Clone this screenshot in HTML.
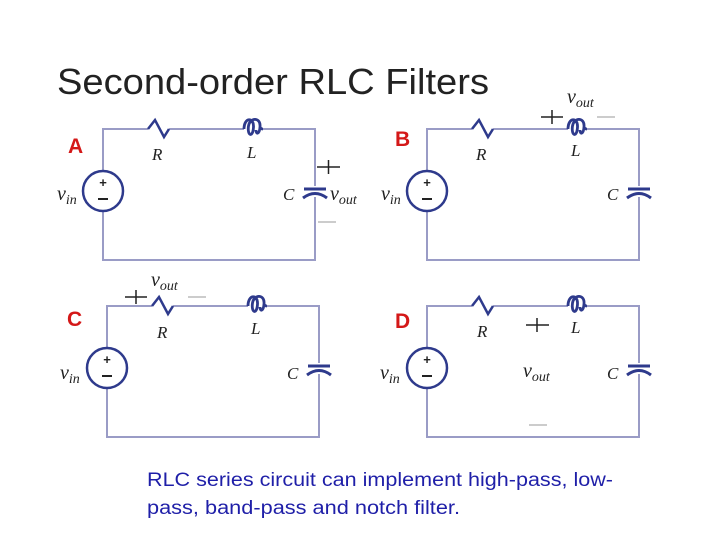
<!DOCTYPE html>
<html><head><meta charset="utf-8"><style>
html,body{margin:0;padding:0;background:#fff;}
svg{display:block}
.t{font-family:"Liberation Serif",serif;font-style:italic;fill:#222;}
.lab{font-family:"Liberation Sans",sans-serif;font-weight:bold;fill:#d41818;font-size:21px;}
</style></head><body>
<svg width="720" height="540" viewBox="0 0 720 540" xmlns="http://www.w3.org/2000/svg">
<defs>
<g id="ckt">
  <path d="M0,42 V0 H45 M66,0 H141 M160,0 H212 V57 M212,68 V131 H0 V82" fill="none" stroke="#9a9cc6" stroke-width="2"/>
  <path d="M45,0 L52,-9 L61,8 L66,0" fill="none" stroke="#2e3a8c" stroke-width="2.5"/>
  <path d="M141,0 C141,-12 151,-12 150.5,-2 C150,9 144,7 145.5,-3 C147,-12 158,-12 157,-2 C156.5,5 153,6 153,1 M157,-2 C158,0 159,0 160,0" fill="none" stroke="#2e3a8c" stroke-width="2.8"/>
  <path d="M201,60 H223 M200,69 Q212,60 224,69" fill="none" stroke="#2e3a8c" stroke-width="3"/>
  <circle cx="0" cy="62" r="20" fill="#fff" stroke="#2e3a8c" stroke-width="2.5"/>
  <text x="0" y="58" text-anchor="middle" font-family="Liberation Sans,sans-serif" font-size="13" font-weight="bold" fill="#222">+</text>
  <path d="M-5,70 H5" stroke="#222" stroke-width="2"/>
</g>
</defs>
<text x="57" y="94" font-family="Liberation Sans,sans-serif" font-size="36" fill="#222" textLength="432" lengthAdjust="spacingAndGlyphs">Second-order RLC Filters</text>

<use href="#ckt" transform="translate(103,129)"/>
<text class="lab" x="68" y="153">A</text>
<text class="t" x="152" y="160" font-size="17">R</text>
<text class="t" x="247" y="158" font-size="17">L</text>
<text class="t" x="283" y="200" font-size="17">C</text>
<text class="t" x="57" y="200" font-size="20">v<tspan font-size="14" dy="4">in</tspan></text>
<text class="t" x="330" y="200" font-size="20">v<tspan font-size="14" dy="4">out</tspan></text>
<path d="M317,167 H340 M328.5,160 V174" stroke="#222" stroke-width="1.5"/>
<path d="M318,222 H336" stroke="#999" stroke-width="1"/>

<use href="#ckt" transform="translate(427,129)"/>
<text class="lab" x="395" y="146">B</text>
<text class="t" x="476" y="160" font-size="17">R</text>
<text class="t" x="571" y="156" font-size="17">L</text>
<text class="t" x="607" y="200" font-size="17">C</text>
<text class="t" x="381" y="200" font-size="20">v<tspan font-size="14" dy="4">in</tspan></text>
<text class="t" x="567" y="103" font-size="20">v<tspan font-size="14" dy="4">out</tspan></text>
<path d="M541,117 H563 M552,110 V124" stroke="#222" stroke-width="1.5"/>
<path d="M597,117 H615" stroke="#999" stroke-width="1"/>

<use href="#ckt" transform="translate(107,306)"/>
<text class="lab" x="67" y="326">C</text>
<text class="t" x="157" y="338" font-size="17">R</text>
<text class="t" x="251" y="334" font-size="17">L</text>
<text class="t" x="287" y="379" font-size="17">C</text>
<text class="t" x="60" y="379" font-size="20">v<tspan font-size="14" dy="4">in</tspan></text>
<text class="t" x="151" y="286" font-size="20">v<tspan font-size="14" dy="4">out</tspan></text>
<path d="M125,297 H147 M136,290 V304" stroke="#222" stroke-width="1.5"/>
<path d="M188,297 H206" stroke="#999" stroke-width="1"/>

<use href="#ckt" transform="translate(427,306)"/>
<text class="lab" x="395" y="328">D</text>
<text class="t" x="477" y="337" font-size="17">R</text>
<text class="t" x="571" y="333" font-size="17">L</text>
<text class="t" x="607" y="379" font-size="17">C</text>
<text class="t" x="380" y="379" font-size="20">v<tspan font-size="14" dy="4">in</tspan></text>
<text class="t" x="523" y="377" font-size="20">v<tspan font-size="14" dy="4">out</tspan></text>
<path d="M526,325 H549 M537,318 V332" stroke="#222" stroke-width="1.5"/>
<path d="M529,425 H547" stroke="#999" stroke-width="1"/>

<text font-family="Liberation Sans,sans-serif" font-size="19" fill="#1f1fa8">
<tspan x="147" y="486" textLength="466" lengthAdjust="spacingAndGlyphs">RLC series circuit can implement high-pass, low-</tspan>
<tspan x="147" y="514" textLength="313" lengthAdjust="spacingAndGlyphs">pass, band-pass and notch filter.</tspan>
</text>
</svg>
</body></html>
